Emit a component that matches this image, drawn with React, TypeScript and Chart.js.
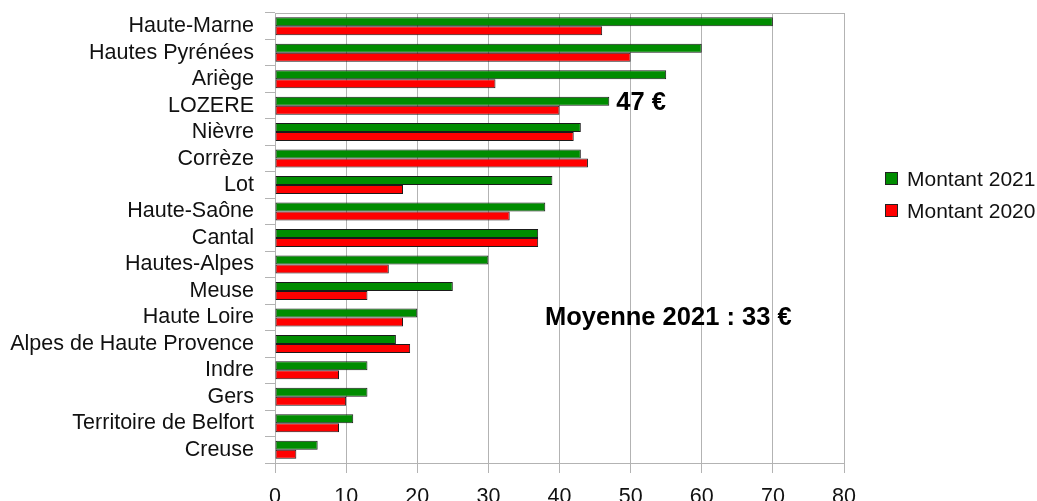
import React, { useEffect, useRef } from "react";
import { Chart, registerables } from "chart.js";

Chart.register(...registerables);

const categories = [
  "Haute-Marne",
  "Hautes Pyrénées",
  "Ariège",
  "LOZERE",
  "Nièvre",
  "Corrèze",
  "Lot",
  "Haute-Saône",
  "Cantal",
  "Hautes-Alpes",
  "Meuse",
  "Haute Loire",
  "Alpes de Haute Provence",
  "Indre",
  "Gers",
  "Territoire de Belfort",
  "Creuse",
];

const montant2021 = [70, 60, 55, 47, 43, 43, 39, 38, 37, 30, 25, 20, 17, 13, 13, 11, 6];
const montant2020 = [46, 50, 31, 40, 42, 44, 18, 33, 37, 16, 13, 18, 19, 9, 10, 9, 3];

const seriesNames = ["Montant 2021", "Montant 2020"];
const seriesColors = ["#008c00", "#ff0000"];

const xTicks = [0, 10, 20, 30, 40, 50, 60, 70, 80];

const lozereNote = "47 €";
const lozereCategory = "LOZERE";
const moyenneNote = "Moyenne 2021 : 33 €";
const moyenneCategory = "Haute Loire";
const moyenneCenterValue = 55.3;

const FONT = "'Liberation Sans', Arial, sans-serif";

const annotationPlugin = {
  id: "annotations",
  beforeDatasetsDraw(chart: any) {
    const { ctx, chartArea } = chart;
    ctx.save();
    ctx.strokeStyle = "#b3b3b3";
    ctx.lineWidth = 1;
    ctx.beginPath();
    ctx.moveTo(chartArea.left, Math.round(chartArea.top) + 0.5);
    ctx.lineTo(chartArea.right, Math.round(chartArea.top) + 0.5);
    ctx.stroke();
    ctx.restore();
  },
  afterDraw(chart: any) {
    const { ctx } = chart;
    const xs = chart.scales.x;
    const ys = chart.scales.y;
    ctx.save();
    ctx.fillStyle = "#000";
    ctx.font = `bold 25.5px ${FONT}`;
    ctx.textBaseline = "middle";
    const li = categories.indexOf(lozereCategory);
    ctx.textAlign = "left";
    ctx.fillText(lozereNote, xs.getPixelForValue(montant2021[li]) + 7, ys.getPixelForValue(li) - 3);
    const mi = categories.indexOf(moyenneCategory);
    ctx.textAlign = "center";
    ctx.fillText(moyenneNote, xs.getPixelForValue(moyenneCenterValue), ys.getPixelForValue(mi) + 1);

    // legend
    ctx.font = `21px ${FONT}`;
    ctx.textAlign = "left";
    const lx = 885;
    const ly = [179, 211];
    seriesNames.forEach((name, i) => {
      ctx.fillStyle = seriesColors[i];
      ctx.fillRect(lx + 0.5, ly[i] - 6.5, 12, 12);
      ctx.strokeStyle = "#222";
      ctx.lineWidth = 1;
      ctx.strokeRect(lx + 0.5, ly[i] - 6.5, 12, 12);
      ctx.fillStyle = "#111";
      ctx.fillText(name, lx + 22, ly[i] + 1);
    });
    ctx.restore();
  },
};

export default function App() {
  const ref = useRef<HTMLCanvasElement | null>(null);

  useEffect(() => {
    if (!ref.current) return;
    const chart = new Chart(ref.current, {
      type: "bar",
      data: {
        labels: categories,
        datasets: [
          {
            label: seriesNames[0],
            data: montant2021,
            backgroundColor: seriesColors[0],
            borderColor: "#1a1a1a",
            borderWidth: 1,
            borderSkipped: false,
            categoryPercentage: 0.68,
            barPercentage: 1.0,
          },
          {
            label: seriesNames[1],
            data: montant2020,
            backgroundColor: seriesColors[1],
            borderColor: "#1a1a1a",
            borderWidth: 1,
            borderSkipped: false,
            categoryPercentage: 0.68,
            barPercentage: 1.0,
          },
        ],
      },
      options: {
        indexAxis: "y",
        animation: false,
        responsive: false,
        maintainAspectRatio: false,
        layout: { padding: { top: 13, right: 193, left: 0, bottom: 0 } },
        plugins: {
          legend: { display: false },
          tooltip: { enabled: false },
        },
        scales: {
          x: {
            min: 0,
            max: 80,
            afterBuildTicks: (scale: any) => {
              scale.ticks = xTicks.map((v) => ({ value: v }));
            },
            afterFit: (scale: any) => {
              scale.height = 38;
              scale.paddingLeft = 0;
              scale.paddingRight = 0;
            },
            grid: {
              color: "#b3b3b3",
              lineWidth: 1,
              tickLength: 10,
              drawTicks: true,
            },
            border: { color: "#b3b3b3" },
            ticks: {
              color: "#111",
              font: { family: FONT, size: 21.5 },
              padding: 11,
              maxRotation: 0,
            },
          },
          y: {
            afterFit: (scale: any) => {
              scale.width = 275;
              scale.paddingTop = 0;
              scale.paddingBottom = 0;
            },
            grid: {
              offset: true,
              drawOnChartArea: false,
              color: "#b3b3b3",
              tickLength: 10,
            },
            border: { color: "#b3b3b3" },
            ticks: {
              color: "#111",
              font: { family: FONT, size: 21.5 },
              padding: 11,
              autoSkip: false,
            },
          },
        },
      },
      plugins: [annotationPlugin],
    } as any);
    return () => chart.destroy();
  }, []);

  return (
    <div style={{ position: "fixed", left: 0, top: 0, width: 1037, height: 501, background: "#fff" }}>
      <canvas ref={ref} width={1037} height={501} style={{ width: 1037, height: 501, display: "block" }} />
    </div>
  );
}
